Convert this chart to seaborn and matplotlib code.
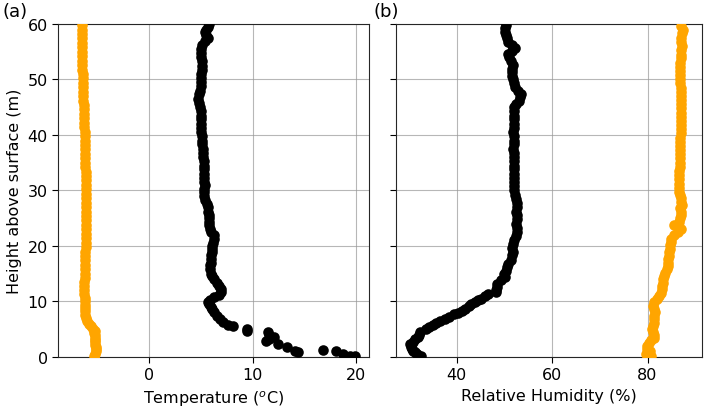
import matplotlib
matplotlib.use("Agg")
import matplotlib.pyplot as plt
import seaborn as sns

# (a) temperature profile, black
temp_h = [0.1, 0.2, 0.5, 1.0, 1.3, 0.9, 1.1, 1.8, 2.3, 2.9, 3.3, 3.6, 4.0, 4.5,
          4.6, 5.1, 5.6, 5.8, 6.3, 6.8, 7.3, 8.1, 8.6, 9.0, 9.5, 9.9, 10.3, 10.8,
          11.2, 11.7, 12.2, 12.8, 13.4, 14.0, 14.5, 15.0, 15.9, 16.5, 17.0, 17.7,
          18.3, 19.0, 19.5, 20.0, 20.6, 21.2, 21.9, 22.5, 23.0, 23.7, 24.3, 25.0,
          25.5, 26.2, 27.0, 27.6, 28.3, 29.0, 29.7, 30.3, 31.0, 31.5, 32.3, 33.0,
          33.8, 34.5, 35.3, 36.0, 36.8, 37.5, 38.3, 39.0, 39.8, 40.5, 41.3, 42.0,
          42.8, 43.5, 44.3, 45.0, 45.8, 46.5, 47.3, 48.0, 48.8, 49.5, 50.3, 51.0,
          51.8, 52.5, 53.3, 54.0, 54.8, 55.5, 56.3, 57.0, 57.5, 58.0, 58.5, 59.0,
          59.5, 60.0]
temp_c = [19.9, 19.4, 18.7, 18.0, 16.8, 14.4, 14.1, 13.3, 12.4, 11.3, 11.6, 12.1, 11.6, 11.5,
          9.4, 9.4, 8.1, 7.6, 7.1, 6.8, 6.5, 6.3, 6.1, 6.0, 5.8, 5.7, 5.9, 6.3,
          6.7, 6.95, 6.9, 6.7, 6.5, 6.3, 6.1, 6.0, 5.9, 5.9, 6.0, 6.0,
          6.0, 6.1, 6.1, 6.1, 6.2, 6.3, 6.3, 6.0, 5.9, 5.8, 5.8, 5.8,
          5.8, 5.7, 5.7, 5.6, 5.4, 5.3, 5.3, 5.3, 5.4, 5.3, 5.3, 5.3,
          5.3, 5.3, 5.3, 5.2, 5.2, 5.2, 5.1, 5.1, 5.1, 5.0, 5.0, 5.0,
          5.0, 5.0, 5.0, 4.9, 4.8, 4.7, 4.8, 4.9, 5.0, 5.0, 5.0, 5.0,
          5.1, 5.1, 5.1, 5.0, 5.0, 5.0, 5.1, 5.4, 5.7, 5.5, 5.4, 5.5,
          5.7, 5.8]

# (a) second profile, orange
dew_h = [0.2, 0.6, 1.0, 1.4, 1.8, 2.2, 2.7, 3.1, 3.5, 3.9, 4.3, 4.7, 5.1, 5.5,
         6.0, 6.5, 7.0, 7.6, 8.2, 8.8, 9.4, 10.0, 10.7, 11.4, 12.1, 12.8, 13.5,
         14.2, 15.0, 15.8, 16.6, 17.4, 18.2, 19.0, 19.8, 20.6, 21.4, 22.2, 23.0,
         23.8, 24.6, 25.4, 26.2, 27.0, 27.8, 28.6, 29.4, 30.2, 31.0, 31.8, 32.6,
         33.4, 34.2, 35.0, 35.8, 36.6, 37.4, 38.2, 39.0, 39.8, 40.6, 41.4, 42.2,
         43.0, 43.8, 44.6, 45.4, 46.2, 47.0, 47.8, 48.6, 49.4, 50.2, 51.0, 51.8,
         52.6, 53.4, 54.2, 55.0, 55.8, 56.6, 57.4, 58.2, 59.0, 59.8]
dew_c = [-5.3, -5.2, -5.1, -5.1, -5.1, -5.2, -5.2, -5.2, -5.2, -5.2, -5.3, -5.2, -5.4, -5.6,
         -5.8, -6.0, -6.1, -6.2, -6.2, -6.2, -6.2, -6.2, -6.25, -6.3, -6.3, -6.3, -6.3,
         -6.25, -6.25, -6.2, -6.2, -6.2, -6.2, -6.2, -6.15, -6.1, -6.1, -6.1, -6.1,
         -6.1, -6.1, -6.1, -6.1, -6.1, -6.1, -6.1, -6.1, -6.15, -6.15, -6.15, -6.15,
         -6.15, -6.2, -6.2, -6.2, -6.2, -6.2, -6.2, -6.2, -6.25, -6.25, -6.3, -6.3,
         -6.3, -6.3, -6.3, -6.3, -6.35, -6.35, -6.35, -6.4, -6.4, -6.4, -6.4, -6.45,
         -6.45, -6.45, -6.5, -6.5, -6.5, -6.5, -6.5, -6.5, -6.5, -6.5]

# (b) relative humidity, black
rh_h = [0.2, 0.5, 0.8, 1.1, 1.4, 1.8, 2.3, 2.7, 3.2, 3.6, 4.0, 4.5, 5.0, 5.4,
        5.8, 6.2, 6.5, 6.8, 7.2, 7.7, 8.0, 8.3, 8.7, 9.1, 9.5, 9.9, 10.2, 10.5,
        11.0, 11.4, 11.7, 12.1, 12.6, 13.2, 13.8, 14.4, 15.0, 15.5, 16.2, 16.8,
        17.5, 18.3, 19.0, 19.7, 20.4, 21.0, 21.8, 22.5, 23.3, 24.0, 24.8, 25.5,
        26.2, 27.0, 27.7, 28.4, 29.2, 30.0, 30.8, 31.5, 32.3, 33.0, 33.8, 34.5,
        35.3, 36.0, 36.8, 37.5, 38.3, 39.0, 39.8, 40.5, 41.3, 42.0, 42.8, 43.5,
        44.3, 45.0, 45.6, 46.2, 46.8, 47.4, 48.0, 48.6, 49.3, 50.0, 50.6, 51.3,
        51.9, 52.6, 53.3, 54.0, 54.6, 55.2, 55.6, 56.2, 56.8, 57.4, 58.0, 58.6,
        59.2, 59.8]
rh_pct = [32.5, 31.6, 31.3, 30.9, 30.6, 30.4, 30.3, 30.8, 31.3, 31.8, 32.0, 32.4, 33.6, 34.1,
          35.0, 35.7, 36.6, 37.6, 38.4, 39.4, 40.2, 41.1, 41.8, 42.5, 42.9, 43.8, 44.5, 45.0,
          46.0, 46.6, 48.2, 48.3, 48.4, 48.5, 49.3, 50.1, 50.0, 50.3, 50.6, 50.8,
          51.3, 51.6, 51.7, 51.6, 51.8, 52.0, 52.4, 52.6, 52.6, 52.5, 52.6, 52.6,
          52.5, 52.6, 52.6, 52.5, 52.2, 52.0, 52.0, 52.1, 52.1, 52.0, 52.1, 52.0,
          52.0, 52.0, 52.0, 51.9, 52.0, 52.0, 52.0, 51.9, 52.0, 52.1, 52.1, 52.0,
          52.0, 52.0, 52.5, 53.0, 53.2, 53.4, 52.8, 52.2, 52.0, 51.7, 51.5, 51.6,
          51.6, 51.8, 51.4, 51.0, 50.8, 51.5, 52.3, 51.5, 50.7, 50.5, 50.3, 50.2,
          50.2, 50.3]

# (b) second profile, orange
rh2_h = [0.2, 0.5, 1.0, 1.5, 2.0, 2.5, 3.0, 3.5, 4.0, 4.5, 5.0, 5.6, 6.2, 6.8,
         7.4, 8.1, 8.6, 9.2, 9.9, 10.4, 11.0, 11.6, 12.2, 12.8, 13.4, 14.0, 14.6,
         15.2, 15.8, 16.4, 17.0, 17.6, 18.2, 18.9, 19.5, 20.2, 20.8, 21.3, 21.9,
         22.5, 23.0, 23.7, 24.3, 25.0, 25.6, 26.2, 26.8, 27.4, 28.0, 28.6, 29.2,
         29.8, 30.5, 31.2, 32.0, 32.8, 33.5, 34.3, 35.0, 35.8, 36.5, 37.3, 38.0,
         38.8, 39.5, 40.3, 41.0, 41.8, 42.5, 43.3, 44.0, 44.8, 45.5, 46.3, 47.0,
         47.8, 48.5, 49.3, 50.0, 50.8, 51.5, 52.3, 53.0, 53.8, 54.5, 55.3, 56.0,
         56.8, 57.5, 58.3, 59.0, 59.7]
rh2_pct = [80.8, 79.7, 80.5, 79.9, 79.8, 80.3, 80.8, 81.3, 81.4, 81.2, 81.0, 81.1, 81.3, 81.3,
           81.4, 81.5, 81.3, 81.2, 81.4, 82.0, 82.5, 82.8, 83.0, 83.0, 83.2, 83.3, 83.5,
           83.6, 84.0, 84.2, 84.3, 84.3, 84.5, 84.6, 84.7, 84.8, 84.9, 85.0, 85.5,
           86.3, 87.1, 85.6, 86.5, 86.9, 87.0, 87.0, 86.9, 87.2, 87.0, 87.1, 86.8,
           86.6, 86.6, 86.6, 86.7, 86.7, 86.7, 86.8, 86.8, 86.8, 86.9, 86.9, 86.9,
           86.9, 86.9, 87.0, 87.0, 87.0, 87.0, 87.0, 87.0, 87.0, 87.1, 87.1, 87.0,
           87.0, 87.0, 86.9, 86.9, 86.9, 86.9, 86.9, 86.9, 87.0, 87.0, 87.1, 87.2,
           87.0, 87.0, 87.3, 87.4, 87.1]

sns.set_style("ticks", {"axes.grid": True, "grid.color": "0.6", "axes.edgecolor": "0.15",
                        "text.color": "black", "axes.labelcolor": "black",
                        "xtick.color": "black", "ytick.color": "black"})
plt.rcParams["font.family"] = ["DejaVu Sans"]
plt.rcParams["font.size"] = 11.5

fig = plt.figure(figsize=(7.09, 4.10), dpi=100)
ax1 = fig.add_axes([0.082, 0.127, 0.438, 0.812])
ax2 = fig.add_axes([0.558, 0.127, 0.432, 0.812])

dot = dict(s=58, linewidth=0, zorder=3)

sns.scatterplot(x=dew_c, y=dew_h, color="orange", ax=ax1, **dot)
sns.scatterplot(x=temp_c, y=temp_h, color="black", ax=ax1, **dot)
sns.scatterplot(x=rh_pct, y=rh_h, color="black", ax=ax2, **dot)
sns.scatterplot(x=rh2_pct, y=rh2_h, color="orange", ax=ax2, **dot)

for ax in (ax1, ax2):
    ax.set_ylim(0, 60)
    ax.set_yticks([0, 10, 20, 30, 40, 50, 60])
    ax.grid(True, color="0.6", linewidth=0.8, alpha=0.7)
    ax.set_axisbelow(True)
    ax.tick_params(labelsize=11.5, length=4)

ax1.set_xlim(-8.8, 21.2)
ax1.set_xticks([0, 10, 20])
ax1.set_xlabel("Temperature ($^o$C)", fontsize=11.5)
ax1.set_ylabel("Height above surface (m)", fontsize=11.5)

ax2.set_xlim(27.2, 91.4)
ax2.set_xticks([40, 60, 80])
ax2.set_yticklabels([])
ax2.set_xlabel("Relative Humidity (%)", fontsize=11.5)
ax2.set_ylabel("")

fig.text(0.003, 0.97, "(a)", fontsize=13, va="center")
fig.text(0.527, 0.97, "(b)", fontsize=13, va="center")

fig.savefig("out.png", dpi=100)
